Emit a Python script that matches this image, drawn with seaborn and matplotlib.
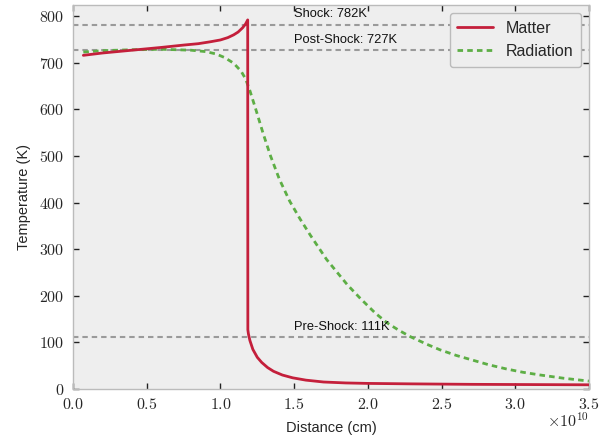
import numpy as np
import pandas as pd
import matplotlib
matplotlib.use("Agg")
import matplotlib.pyplot as plt
from matplotlib.ticker import FuncFormatter, MultipleLocator
import seaborn as sns

# Distances are tabulated in units of 1e10 cm, temperatures in K.
CM_UNIT = 1e10

matter_x = [0.07, 0.20, 0.40, 0.60, 0.75, 0.85, 0.93, 1.00, 1.05, 1.09,
            1.12, 1.15, 1.17, 1.185, 1.186, 1.19, 1.20, 1.22, 1.25, 1.28,
            1.32, 1.36, 1.42, 1.49, 1.58, 1.70, 1.85, 2.00, 2.30, 2.70,
            3.10, 3.50]
matter_T = [716, 721, 727, 733, 738, 741, 745, 749, 754, 760,
            766, 775, 783, 792, 127, 118, 104, 85, 68, 57,
            46, 38, 30, 24, 19, 15, 13, 12, 11, 10,
            9.5, 9]

radiation_x = [0.07, 0.20, 0.40, 0.60, 0.80, 0.90, 0.97, 1.03, 1.09, 1.14,
               1.17, 1.20, 1.24, 1.29, 1.34, 1.40, 1.47, 1.54, 1.61, 1.72,
               1.86, 1.95, 2.05, 2.13, 2.21, 2.29, 2.40, 2.49, 2.60, 2.71,
               2.82, 2.94, 3.05, 3.17, 3.33, 3.50]
radiation_T = [723, 726, 728, 729, 727, 724, 719, 711, 699, 682,
               666, 640, 600, 548, 500, 450, 403, 365, 330, 278,
               224, 194, 163, 142, 126, 112, 96, 84, 72, 62,
               52, 43, 36, 30, 23, 17]

level_names = ["Shock", "Post-Shock", "Pre-Shock"]
level_values = [782, 727, 111]
label_x = 1.5

MATTER_COLOR = "#c41f3b"
RADIATION_COLOR = "#5dae45"
LEVEL_COLOR = "#9a9a9a"

sns.set_theme(style="ticks", rc={
    "axes.facecolor": "#eeeeee",
    "figure.facecolor": "white",
    "axes.edgecolor": "#bbbbbb",
    "axes.linewidth": 1.0,
})
plt.rcParams["font.family"] = ["Liberation Sans", "DejaVu Sans"]
plt.rcParams["mathtext.fontset"] = "cm"

fig, ax = plt.subplots(figsize=(6.07, 4.37), dpi=100)
fig.subplots_adjust(left=73 / 607, right=589 / 607, bottom=48 / 437, top=432 / 437)

matter = pd.DataFrame({"Distance": np.array(matter_x) * CM_UNIT, "T": matter_T})
radiation = pd.DataFrame({"Distance": np.array(radiation_x) * CM_UNIT, "T": radiation_T})

# Reference temperature levels
for name, value in zip(level_names, level_values):
    ax.axhline(value, color=LEVEL_COLOR, lw=1.5, dashes=(2.6, 1.9), zorder=1)
    ax.annotate(f"{name}: {value}K", xy=(label_x * CM_UNIT, value),
                xytext=(0, 5.5), textcoords="offset points",
                ha="left", va="baseline", fontsize=9.3, color="#111111")

sns.lineplot(data=matter, x="Distance", y="T", sort=False, estimator=None,
             color=MATTER_COLOR, lw=2, label="Matter", ax=ax, zorder=3)
sns.lineplot(data=radiation, x="Distance", y="T", sort=False, estimator=None,
             color=RADIATION_COLOR, lw=2, label="Radiation", ax=ax, zorder=2)
ax.lines[-1].set_dashes((2.0, 1.5))

ax.set_xlim(0, 3.5 * CM_UNIT)
ax.set_ylim(0, 824)
ax.xaxis.set_major_locator(MultipleLocator(0.5 * CM_UNIT))
ax.yaxis.set_major_locator(MultipleLocator(100))
ax.xaxis.set_major_formatter(FuncFormatter(lambda v, _: rf"${v / CM_UNIT:.1f}$"))
ax.yaxis.set_major_formatter(FuncFormatter(lambda v, _: rf"${v:.0f}$"))
ax.tick_params(direction="in", top=True, right=True, length=4, width=1,
               color="#222222", labelsize=11.5, pad=6)

ax.text(1.0, -0.058, r"$\times10^{10}$", transform=ax.transAxes,
        ha="right", va="top", fontsize=11.5)

ax.set_xlabel("Distance (cm)", fontsize=10.5, labelpad=6)
ax.set_ylabel("Temperature (K)", fontsize=10.5, labelpad=6)

leg = ax.legend(loc="upper right", fontsize=11.5, frameon=True, fancybox=True,
                handlelength=2.2, borderpad=0.5, labelspacing=0.5)
leg.get_frame().set_facecolor("#eeeeee")
leg.get_frame().set_edgecolor("#bbbbbb")
leg.get_frame().set_alpha(1)

fig.savefig("out.png", dpi=100)
